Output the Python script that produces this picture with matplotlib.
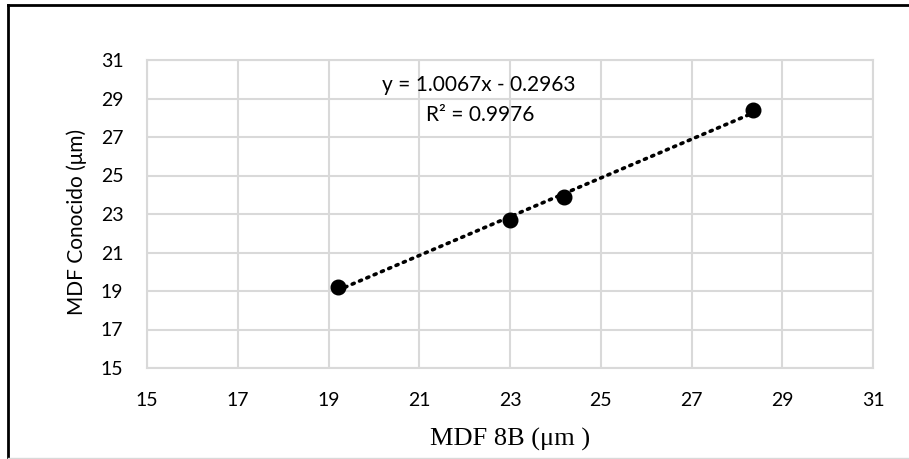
import numpy as np
import matplotlib
matplotlib.use("Agg")
import matplotlib.pyplot as plt
from matplotlib.lines import Line2D

# Data
mdf_8b = [19.2, 23.0, 24.2, 28.35]
mdf_conocido = [19.2, 22.7, 23.9, 28.4]
ticks = [15, 17, 19, 21, 23, 25, 27, 29, 31]
eq_text = "y = 1.0067x - 0.2963"
r2_text = "R² = 0.9976"
xlabel = "MDF 8B (μm )"
ylabel = "MDF Conocido (μm)"

W, H = 909, 459
fig = plt.figure(figsize=(W/100, H/100), dpi=100)
ax = fig.add_axes([147/W, 1-368/H, (873-147)/W, (368-60)/H])

grid_c = "#d9d9d9"
ax.set_xlim(15, 31)
ax.set_ylim(15, 31)
ax.set_xticks(ticks)
ax.set_yticks(ticks)
ax.set_xticklabels([str(t) for t in ticks], fontfamily="Lato", fontsize=14)
ax.set_yticklabels([str(t) for t in ticks], fontfamily="Lato", fontsize=14)
ax.tick_params(axis="x", length=0, pad=17)
ax.tick_params(axis="y", length=0, pad=17)
ax.grid(True, color=grid_c, linewidth=1.5)
ax.set_axisbelow(True)
for s in ax.spines.values():
    s.set_color(grid_c)
    s.set_linewidth(1.5)

# trendline
coef = np.polyfit(mdf_8b, mdf_conocido, 1)
xs = np.array([min(mdf_8b), max(mdf_8b)])
ax.plot(xs, np.polyval(coef, xs), linestyle=(0, (0.6, 1.6)), color="black",
        linewidth=2.6, dash_capstyle="round", zorder=2)
ax.plot(mdf_8b, mdf_conocido, "o", color="black", markersize=10.5, zorder=3)

fig.text(479/W, 1-85/H, eq_text, fontfamily="Lato", fontsize=15,
         ha="center", va="center")
fig.text(480/W, 1-115/H, r2_text, fontfamily="Lato", fontsize=15,
         ha="center", va="center")

fig.text(510/W, 1-439/H, xlabel, fontfamily="Liberation Serif", fontsize=19,
         ha="center", va="center")
fig.text(77/W, 1-222/H, ylabel, fontfamily="Lato", fontsize=15,
         ha="center", va="center", rotation=90)

# figure frame
fig.add_artist(Line2D([8/W, 1], [1-5/H, 1-5/H], transform=fig.transFigure,
                      color="black", linewidth=2))
fig.add_artist(Line2D([8/W, 8/W], [0, 1-5/H], transform=fig.transFigure,
                      color="black", linewidth=2))
fig.add_artist(Line2D([8/W, 1], [1-458/H, 1-458/H], transform=fig.transFigure,
                      color="#d9d9d9", linewidth=1))

fig.savefig("out.png", dpi=100)
